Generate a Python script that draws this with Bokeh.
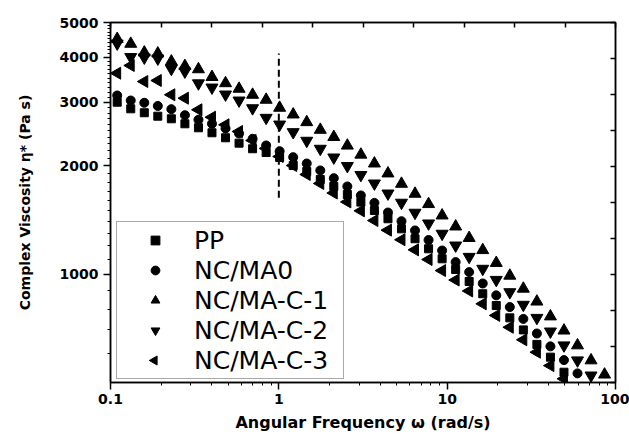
import numpy as np
from bokeh.plotting import figure
from bokeh.models import (Range1d, LogAxis, FixedTicker, CustomJSTickFormatter,
                          Legend, LegendItem, ColumnDataSource)
from bokeh.embed import file_html
from bokeh.resources import INLINE

# ---------------- data ----------------
omega = [0.1096, 0.1319, 0.1588, 0.1910, 0.2299, 0.2767, 0.3330, 0.4007, 0.4823, 0.5804,
         0.6984, 0.8405, 1.011, 1.217, 1.465, 1.763, 2.121, 2.553, 3.072, 3.697,
         4.449, 5.354, 6.443, 7.754, 9.333, 11.23, 13.51, 16.27, 19.57, 23.56,
         28.35, 34.12, 41.06, 49.42, 59.47, 71.57, 86.10]

eta_pp = [3003, 2879, 2807, 2746, 2701, 2616, 2550, 2470, 2392, 2311, 2230, 2177, 2109, 2003,
          1928, 1832, 1752, 1664, 1585, 1502, 1425, 1336, 1254, 1176, 1103, 1030, 954, 882,
          818, 756, 700, 638, 588, 534]
eta_ma0 = [3135, 3036, 2992, 2932, 2872, 2764, 2684, 2616, 2539, 2459, 2376, 2277, 2195, 2113,
           2029, 1941, 1847, 1752, 1654, 1577, 1483, 1403, 1322, 1244, 1163, 1080, 1013, 942,
           873, 810, 751, 684, 630, 577, 530]
eta_c1 = [4500, 4363, 4127, 4101, 3896, 3785, 3707, 3528, 3391, 3272, 3149, 3050, 2898, 2776,
          2643, 2517, 2404, 2275, 2147, 2029, 1904, 1782, 1672, 1565, 1455, 1356, 1260, 1166,
          1074, 990, 911, 839, 763, 697, 634, 576, 526]
eta_c2 = [4372, 4010, 3997, 3972, 3719, 3655, 3389, 3299, 3155, 3036, 2890, 2718, 2604, 2480,
          2347, 2230, 2109, 1997, 1886, 1786, 1675, 1579, 1481, 1383, 1295, 1201, 1117, 1035,
          964, 891, 822, 756, 693, 634, 576, 523]
eta_c3 = [3615, 3798, 3428, 3450, 3149, 3081, 2861, 2728, 2599, 2490, 2351, 2234, 2122, 2003,
          1892, 1786, 1680, 1587, 1499, 1409, 1325, 1246, 1168, 1098, 1023, 963, 898, 827,
          768, 712, 657, 607, 557, 512]

series_labels = ["PP", "NC/MA0", "NC/MA-C-1", "NC/MA-C-2", "NC/MA-C-3"]

x_major_ticks = [0.1, 1, 10, 100]
x_minor_ticks = [0.2, 0.3, 0.4, 0.5, 0.6, 0.7, 0.8, 0.9,
                 2, 3, 4, 5, 6, 7, 8, 9,
                 20, 30, 40, 50, 60, 70, 80, 90]
y_major_ticks = [1000, 2000, 3000, 4000, 5000]
y_minor_ticks = [600, 700, 800, 900] + list(range(1100, 2000, 100)) + \
                list(range(2100, 3000, 100)) + list(range(3100, 4000, 100)) + \
                list(range(4100, 5000, 100))

ref_omega = 1.0
ref_eta = [1630, 4100]

# ---------------- layout constants (pixels) ----------------
W, H = 629, 435
FL, FR, FT, FB = 110, 615, 22, 382          # frame edges on the page
X0, X1, Y0, Y1 = 0.1, 100, 500, 5000
LEG_X, LEG_Y, LEG_PAD, LEG_GW, LEG_ROW = 6, 3, 3, 70, 30

# ---------------- figure ----------------
FONT = "DejaVu Sans"
p = figure(width=W, height=H, x_axis_type="log", y_axis_type="log",
           x_range=Range1d(X0, X1), y_range=Range1d(Y0, Y1),
           output_backend="svg", toolbar_location=None,
           min_border_left=FL, min_border_right=W - FR, min_border_top=FT,
           min_border_bottom=H - FB,
           x_axis_label="Angular Frequency ω (rad/s)",
           y_axis_label="Complex Viscosity η* (Pa s)")
p.xgrid.visible = False
p.ygrid.visible = False
p.outline_line_color = "black"
p.outline_line_width = 1.5
p.background_fill_color = "white"
p.border_fill_color = "white"

xa = p.xaxis[0]
xa.ticker = FixedTicker(ticks=x_major_ticks, minor_ticks=x_minor_ticks)
xa.formatter = CustomJSTickFormatter(code="return String(tick);")
ya = p.yaxis[0]
ya.ticker = FixedTicker(ticks=y_major_ticks, minor_ticks=y_minor_ticks)
ya.formatter = CustomJSTickFormatter(code="return String(tick);")

for ax in (xa, ya):
    ax.axis_line_color = "black"
    ax.axis_line_width = 1.5
    ax.major_tick_line_color = "black"
    ax.major_tick_line_width = 1.5
    ax.minor_tick_line_color = "black"
    ax.minor_tick_line_width = 1
    ax.major_tick_in = 0
    ax.major_tick_out = 7
    ax.minor_tick_in = 0
    ax.minor_tick_out = 3
    ax.major_label_text_font = FONT
    ax.major_label_text_font_style = "bold"
    ax.major_label_text_font_size = "14px"
    ax.major_label_text_color = "black"
    ax.axis_label_text_font = FONT
    ax.axis_label_text_font_style = "bold"
    ax.axis_label_text_color = "black"

xa.major_label_standoff = 4
xa.axis_label_standoff = 6
xa.axis_label_text_font_size = "16px"
ya.major_label_standoff = 5
ya.axis_label_standoff = 24
ya.axis_label_text_font_size = "14px"

# top and right axes: inward ticks, no labels
top_ticks = list(10 ** (-1 + 0.3 * np.arange(11)))
right_ticks = list(500 * 10 ** (0.1 * np.arange(11)))
top_ax = LogAxis(ticker=FixedTicker(ticks=top_ticks, minor_ticks=[]),
                 formatter=CustomJSTickFormatter(code="return '';"))
right_ax = LogAxis(ticker=FixedTicker(ticks=right_ticks, minor_ticks=[]),
                   formatter=CustomJSTickFormatter(code="return '';"))
for ax in (top_ax, right_ax):
    ax.axis_line_color = "black"
    ax.axis_line_width = 1.5
    ax.major_tick_line_color = "black"
    ax.major_tick_line_width = 1.5
    ax.major_tick_in = 5
    ax.major_tick_out = 0
    ax.minor_tick_in = 0
    ax.minor_tick_out = 0
    ax.major_label_standoff = 0
    ax.major_label_text_font_size = "0px"
p.add_layout(top_ax, "above")
p.add_layout(right_ax, "right")

# dashed reference line at omega = 1
p.segment(x0=[ref_omega], y0=[ref_eta[0]], x1=[ref_omega], y1=[ref_eta[1]],
          line_color="black", line_width=2, line_dash="7 4")

# series
def src(vals):
    return ColumnDataSource(dict(x=omega[:len(vals)], y=vals))

r_pp = p.scatter("x", "y", source=src(eta_pp), marker="square", size=8,
                 fill_color="black", line_color="black")
r_ma0 = p.scatter("x", "y", source=src(eta_ma0), marker="circle", size=9,
                  fill_color="black", line_color="black")
r_c1 = p.scatter("x", "y", source=src(eta_c1), marker="triangle", size=12,
                 fill_color="black", line_color="black")
r_c2 = p.scatter("x", "y", source=src(eta_c2), marker="inverted_triangle", size=12,
                 fill_color="black", line_color="black")
r_c3 = p.scatter("x", "y", source=src(eta_c3), marker="triangle", angle=np.pi / 2,
                 size=12, fill_color="black", line_color="black")

# legend: Bokeh draws legend markers un-rotated, so the left-pointing triangle of the
# last entry is drawn by a one-point glyph placed in that legend slot (the legend box
# is transparent; no data lies beneath it).
r_c3_leg_blank = p.scatter(x=[], y=[], marker="triangle", fill_alpha=0, line_alpha=0)
legend = Legend(items=[LegendItem(label=l, renderers=[r]) for l, r in
                       zip(series_labels, [r_pp, r_ma0, r_c1, r_c2, r_c3_leg_blank])],
                location=(LEG_X, LEG_Y))
legend.border_line_color = "#555555"
legend.border_line_width = 1.5
legend.background_fill_alpha = 0.0
legend.padding = LEG_PAD
legend.spacing = 0
legend.margin = 0
legend.glyph_width = LEG_GW
legend.glyph_height = 22
legend.label_height = LEG_ROW
legend.label_width = 146
legend.label_standoff = 4
legend.label_text_font = FONT
legend.label_text_font_size = "25px"
legend.label_text_color = "black"
p.add_layout(legend, "center")

# position of the last legend slot in data coordinates
fw, fh = FR - FL, FB - FT
lx = 10 ** (np.log10(X0) + (LEG_X + LEG_PAD + LEG_GW / 2) / fw * np.log10(X1 / X0))
ly = 10 ** (np.log10(Y0) + (LEG_Y + LEG_PAD + LEG_ROW / 2 + 1) / fh * np.log10(Y1 / Y0))
p.scatter(x=[lx], y=[ly], marker="triangle", angle=np.pi / 2, size=9,
          fill_color="black", line_color="black")

open("out.html", "w").write(file_html(p, INLINE))
